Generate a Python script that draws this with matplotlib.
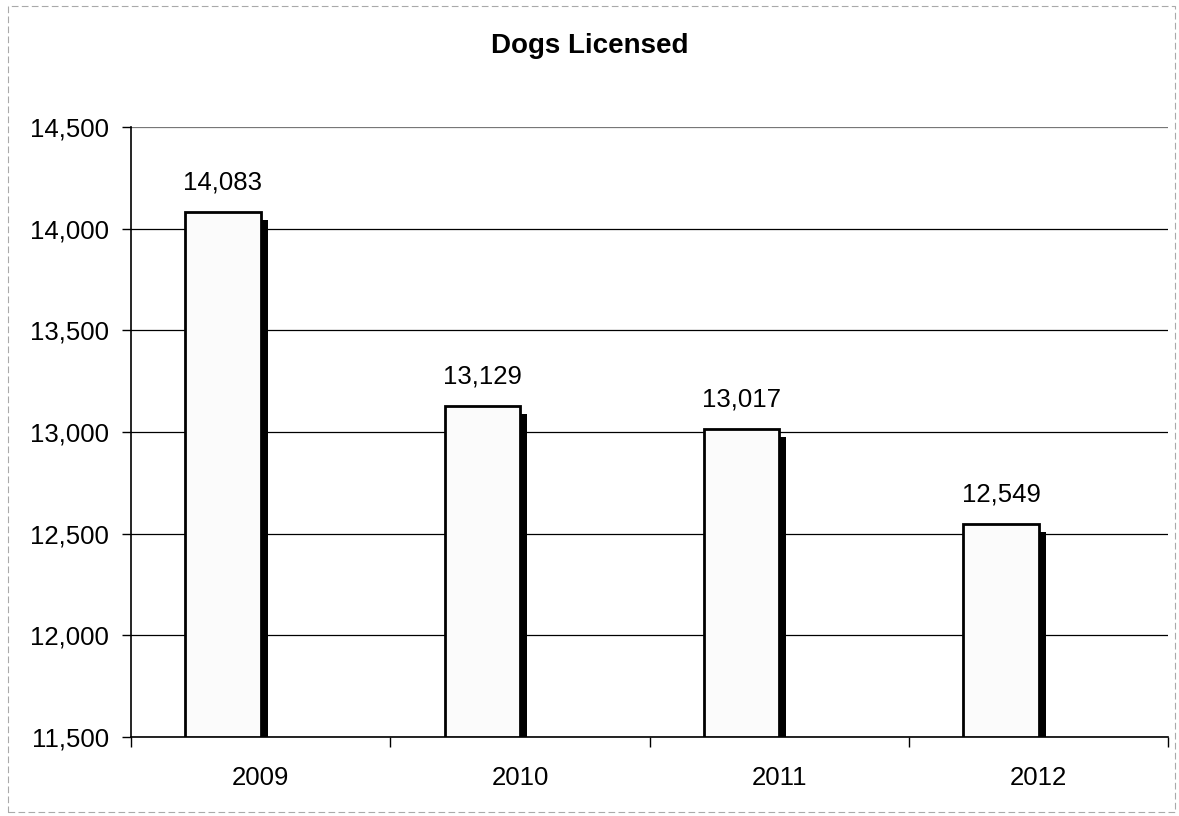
import matplotlib.pyplot as plt
from matplotlib.ticker import FuncFormatter

years = ['2009', '2010', '2011', '2012']
dogs = [14083, 13129, 13017, 12549]
y_ticks = [11500, 12000, 12500, 13000, 13500, 14000, 14500]

plt.rcParams['font.family'] = ['Liberation Sans', 'DejaVu Sans']

fig = plt.figure(figsize=(11.79, 8.16), dpi=100)
ax = fig.add_axes([0.111, 0.0968, 0.880, 0.7476])

base = 11500
x = list(range(len(years)))
bar_x = [i - 0.145 for i in x]
bar_w = 0.29

# drop shadow behind each bar
ax.bar([b + 0.027 for b in bar_x], [d - base - 40 for d in dogs], width=bar_w,
       bottom=base, color='black', zorder=2)
ax.bar(bar_x, [d - base for d in dogs], width=bar_w, bottom=base,
       color='#fbfbfb', edgecolor='black', linewidth=2, zorder=3)

for bx, d in zip(bar_x, dogs):
    ax.text(bx, d + 85, f'{d:,}', ha='center', va='bottom', fontsize=18.5, zorder=4)

ax.set_xlim(-0.5, 3.5)
ax.set_ylim(base, 14500)
ax.set_yticks(y_ticks)
ax.yaxis.set_major_formatter(FuncFormatter(lambda v, p: f'{int(v):,}'))
ax.set_xticks(x)
ax.set_xticklabels(years)
ax.set_xticks([-0.5, 0.5, 1.5, 2.5, 3.5], minor=True)
ax.tick_params(axis='x', which='major', length=0, pad=21, labelsize=18.5)
ax.tick_params(axis='x', which='minor', length=7, width=1)
ax.tick_params(axis='y', length=6.5, width=1, labelsize=18.5, pad=9)

ax.yaxis.grid(True, color='black', linewidth=0.9)
ax.set_axisbelow(True)
for s in ['top', 'right']:
    ax.spines[s].set_visible(False)
ax.spines['left'].set_linewidth(1.2)
ax.spines['bottom'].set_linewidth(1.2)
ax.get_ygridlines()[-1].set_color('#777777')

fig.text(0.5, 0.944, 'Dogs Licensed', ha='center', va='center',
         fontsize=20, fontweight='bold')

# faint outer border of the scanned chart
fig.patches.append(plt.Rectangle((0.007, 0.005), 0.99, 0.988, transform=fig.transFigure,
                                 fill=False, edgecolor='#aaaaaa', linewidth=0.8,
                                 linestyle=(0, (6, 3))))

plt.savefig('out.png')
